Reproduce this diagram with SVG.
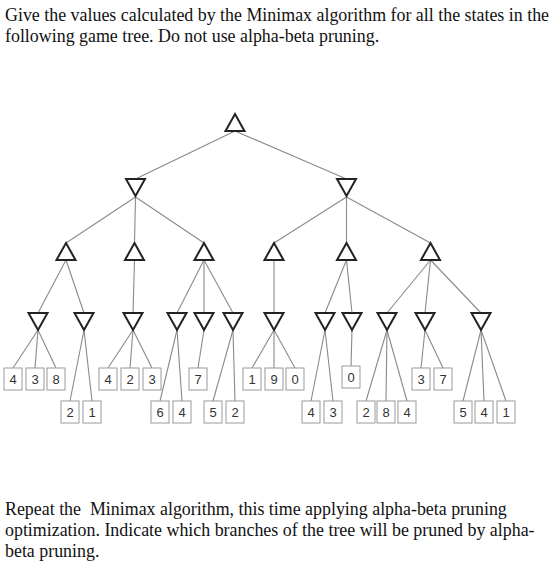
<svg xmlns="http://www.w3.org/2000/svg" width="560" height="578" viewBox="0 0 560 578">
<style>
.t{font-family:"Liberation Serif","Times New Roman",serif;font-size:17.9px;fill:#111;white-space:pre}
.e line{stroke:#8a8a8a;stroke-width:1.1}
.mx,.mn{fill:#fff;stroke:#222;stroke-width:2;stroke-linejoin:miter}
.lf rect{fill:#fff;stroke:#9a9a9a;stroke-width:1}
.lf text{font-family:"Liberation Sans",Arial,sans-serif;font-size:13px;fill:#333;text-anchor:middle}
</style>
<defs>
<path id="up" class="mx" d="M0,0 L9.5,17 L-9.5,17 Z"/>
<path id="dn" class="mn" d="M-9.5,0 L9.5,0 L0,17 Z"/>
</defs>
<rect width="560" height="578" fill="#fff"/>
<text class="t" x="5" y="21">Give the values calculated by the Minimax algorithm for all the states in the</text>
<text class="t" x="5" y="42">following game tree. Do not use alpha-beta pruning.</text>
<text class="t" x="5" y="515" xml:space="preserve">Repeat the  Minimax algorithm, this time applying alpha-beta pruning</text>
<text class="t" x="5" y="536">optimization. Indicate which branches of the tree will be pruned by alpha-</text>
<text class="t" x="5" y="557">beta pruning.</text>

<g id="connectors" class="e">
<line x1="235" y1="131" x2="135.5" y2="179"/>
<line x1="235" y1="131" x2="346.5" y2="179"/>
<line x1="135.5" y1="197" x2="66" y2="243"/>
<line x1="135.5" y1="197" x2="134.5" y2="243"/>
<line x1="135.5" y1="197" x2="204" y2="243"/>
<line x1="346.5" y1="197" x2="274" y2="243"/>
<line x1="346.5" y1="197" x2="346.5" y2="243"/>
<line x1="346.5" y1="197" x2="430.5" y2="243"/>
<line x1="66" y1="260" x2="38" y2="313"/>
<line x1="66" y1="260" x2="84" y2="313"/>
<line x1="134.5" y1="260" x2="133" y2="313"/>
<line x1="204" y1="260" x2="177" y2="313"/>
<line x1="204" y1="260" x2="204" y2="313"/>
<line x1="204" y1="260" x2="233" y2="313"/>
<line x1="274" y1="260" x2="274" y2="313"/>
<line x1="346.5" y1="260" x2="325" y2="313"/>
<line x1="346.5" y1="260" x2="352" y2="313"/>
<line x1="430.5" y1="260" x2="387" y2="313"/>
<line x1="430.5" y1="260" x2="425" y2="313"/>
<line x1="430.5" y1="260" x2="481" y2="313"/>
<line x1="38" y1="330" x2="13" y2="368"/>
<line x1="38" y1="330" x2="35" y2="368"/>
<line x1="38" y1="330" x2="56" y2="368"/>
<line x1="84" y1="330" x2="70" y2="401"/>
<line x1="84" y1="330" x2="92" y2="401"/>
<line x1="133" y1="330" x2="108" y2="368"/>
<line x1="133" y1="330" x2="130" y2="368"/>
<line x1="133" y1="330" x2="152" y2="368"/>
<line x1="177" y1="330" x2="160" y2="401"/>
<line x1="177" y1="330" x2="182" y2="401"/>
<line x1="204" y1="330" x2="198" y2="368"/>
<line x1="233" y1="330" x2="213" y2="401"/>
<line x1="233" y1="330" x2="235" y2="401"/>
<line x1="274" y1="330" x2="252" y2="368"/>
<line x1="274" y1="330" x2="274" y2="368"/>
<line x1="274" y1="330" x2="295" y2="368"/>
<line x1="325" y1="330" x2="311" y2="401"/>
<line x1="325" y1="330" x2="333" y2="401"/>
<line x1="352" y1="330" x2="351" y2="366"/>
<line x1="387" y1="330" x2="366" y2="401"/>
<line x1="387" y1="330" x2="386" y2="401"/>
<line x1="387" y1="330" x2="407" y2="401"/>
<line x1="425" y1="330" x2="421" y2="368"/>
<line x1="425" y1="330" x2="443" y2="368"/>
<line x1="481" y1="330" x2="463" y2="401"/>
<line x1="481" y1="330" x2="484" y2="401"/>
<line x1="481" y1="330" x2="506" y2="401"/>
</g>

<g id="root"><use href="#up" x="235" y="114"/></g>
<g id="min-a"><use href="#dn" x="135.5" y="179"/></g>
<g id="min-b"><use href="#dn" x="346.5" y="179"/></g>
<g id="max-a1"><use href="#up" x="66" y="243"/></g>
<g id="max-a2"><use href="#up" x="134.5" y="243"/></g>
<g id="max-a3"><use href="#up" x="204" y="243"/></g>
<g id="max-b1"><use href="#up" x="274" y="243"/></g>
<g id="max-b2"><use href="#up" x="346.5" y="243"/></g>
<g id="max-b3"><use href="#up" x="430.5" y="243"/></g>
<g id="min-1"><use href="#dn" x="38" y="313"/></g>
<g id="min-2"><use href="#dn" x="84" y="313"/></g>
<g id="min-3"><use href="#dn" x="133" y="313"/></g>
<g id="min-4"><use href="#dn" x="177" y="313"/></g>
<g id="min-5"><use href="#dn" x="204" y="313"/></g>
<g id="min-6"><use href="#dn" x="233" y="313"/></g>
<g id="min-7"><use href="#dn" x="274" y="313"/></g>
<g id="min-8"><use href="#dn" x="325" y="313"/></g>
<g id="min-9"><use href="#dn" x="352" y="313"/></g>
<g id="min-10"><use href="#dn" x="387" y="313"/></g>
<g id="min-11"><use href="#dn" x="425" y="313"/></g>
<g id="min-12"><use href="#dn" x="481" y="313"/></g>

<g class="lf">
<g id="leaf-1"><rect x="4" y="368" width="18" height="22"/><text x="13" y="384">4</text></g>
<g id="leaf-2"><rect x="26" y="368" width="18" height="22"/><text x="35" y="384">3</text></g>
<g id="leaf-3"><rect x="47" y="368" width="18" height="22"/><text x="56" y="384">8</text></g>
<g id="leaf-4"><rect x="61" y="401" width="18" height="22"/><text x="70" y="417">2</text></g>
<g id="leaf-5"><rect x="83" y="401" width="18" height="22"/><text x="92" y="417">1</text></g>
<g id="leaf-6"><rect x="99" y="368" width="18" height="22"/><text x="108" y="384">4</text></g>
<g id="leaf-7"><rect x="121" y="368" width="18" height="22"/><text x="130" y="384">2</text></g>
<g id="leaf-8"><rect x="143" y="368" width="18" height="22"/><text x="152" y="384">3</text></g>
<g id="leaf-9"><rect x="151" y="401" width="18" height="22"/><text x="160" y="417">6</text></g>
<g id="leaf-10"><rect x="173" y="401" width="18" height="22"/><text x="182" y="417">4</text></g>
<g id="leaf-11"><rect x="189" y="368" width="18" height="22"/><text x="198" y="384">7</text></g>
<g id="leaf-12"><rect x="204" y="401" width="18" height="22"/><text x="213" y="417">5</text></g>
<g id="leaf-13"><rect x="226" y="401" width="18" height="22"/><text x="235" y="417">2</text></g>
<g id="leaf-14"><rect x="243" y="368" width="18" height="22"/><text x="252" y="384">1</text></g>
<g id="leaf-15"><rect x="265" y="368" width="18" height="22"/><text x="274" y="384">9</text></g>
<g id="leaf-16"><rect x="286" y="368" width="18" height="22"/><text x="295" y="384">0</text></g>
<g id="leaf-17"><rect x="302" y="401" width="18" height="22"/><text x="311" y="417">4</text></g>
<g id="leaf-18"><rect x="324" y="401" width="18" height="22"/><text x="333" y="417">3</text></g>
<g id="leaf-19"><rect x="342" y="366" width="18" height="22"/><text x="351" y="382">0</text></g>
<g id="leaf-20"><rect x="357" y="401" width="18" height="22"/><text x="366" y="417">2</text></g>
<g id="leaf-21"><rect x="377" y="401" width="18" height="22"/><text x="386" y="417">8</text></g>
<g id="leaf-22"><rect x="398" y="401" width="18" height="22"/><text x="407" y="417">4</text></g>
<g id="leaf-23"><rect x="412" y="368" width="18" height="22"/><text x="421" y="384">3</text></g>
<g id="leaf-24"><rect x="434" y="368" width="18" height="22"/><text x="443" y="384">7</text></g>
<g id="leaf-25"><rect x="454" y="401" width="18" height="22"/><text x="463" y="417">5</text></g>
<g id="leaf-26"><rect x="475" y="401" width="18" height="22"/><text x="484" y="417">4</text></g>
<g id="leaf-27"><rect x="497" y="401" width="18" height="22"/><text x="506" y="417">1</text></g>
</g>
</svg>
